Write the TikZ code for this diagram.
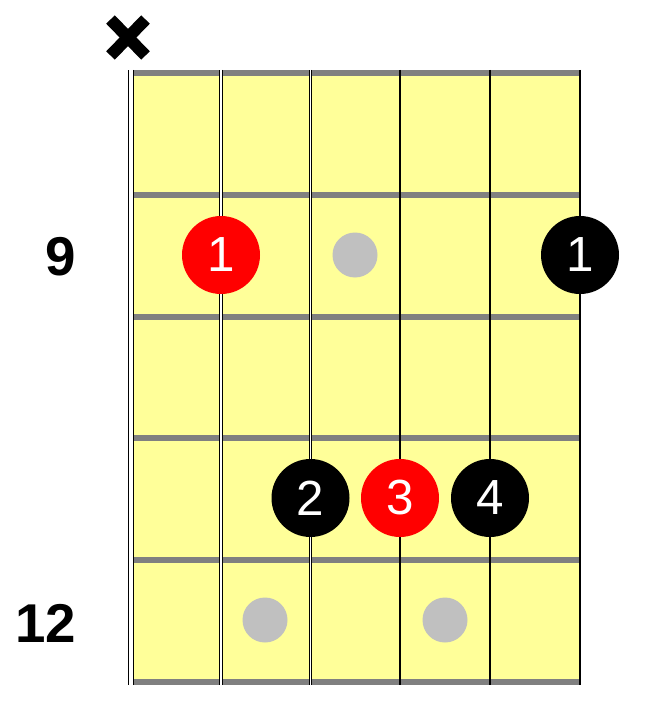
\documentclass[tikz,border=0pt]{standalone}
\usepackage{fontspec}
\setmainfont{Liberation Sans}
\definecolor{board}{HTML}{FFFF99}
\definecolor{fretgray}{HTML}{808080}
\definecolor{inlay}{HTML}{C0C0C0}

\begin{document}
\begin{tikzpicture}[x=0.75pt,y=-0.75pt,
    finger/.style={circle,fill=black,text=white,minimum size=58.5pt,inner sep=0pt,
      font=\fontsize{37}{37}\selectfont},
    root/.style={finger,fill=red},
    inlaydot/.style={circle,fill=inlay,minimum size=33.75pt,inner sep=0pt},
    fretnum/.style={font=\fontsize{41}{41}\selectfont\bfseries},
    fretwire/.style={fretgray,line width=4.5pt},
    thinstring/.style={black,line width=1.1pt}]
        \useasboundingbox (0,0) rectangle (669,720);
        \fill [board] (131,70) rectangle (580,685);
        \foreach \y in {73,194.8,316.6,438.4,560.2,682}
          \draw[fretwire] (131,\y) -- (580,\y);
        % wound strings
        \draw[double=white,line width=0.8pt,double distance=2.4pt] (131,70) -- (131,685);
        \draw[double=white,line width=0.75pt,double distance=1.2pt] (221,70) -- (221,685);
        \draw[double=white,line width=0.6pt,double distance=0.5pt] (310.5,70) -- (310.5,685);
        \foreach \x in {400,490,580}
          \draw[thinstring] (\x,70) -- (\x,685);
        % muted string
        \draw[line width=9pt] (110.5,19.5) -- (145.5,55.5);
        \draw[line width=9pt] (145.5,19.5) -- (110.5,55.5);
        \node[fretnum] (fnine) at (61,257) {9};
        \node[fretnum] (ftwelve) at (46,623) {12};
        \node[inlaydot] (inA) at (355,255) {};
        \node[inlaydot] (inB) at (265,620) {};
        \node[inlaydot] (inC) at (445,620) {};
        \node[root] (rootA) at (221,255) {1};
        \node[finger] (fA) at (580,255) {1};
        \node[finger] (fB) at (310.5,498) {2};
        \node[root] (rootB) at (400,498) {3};
        \node[finger] (fC) at (490,498) {4};
\end{tikzpicture}
\end{document}
